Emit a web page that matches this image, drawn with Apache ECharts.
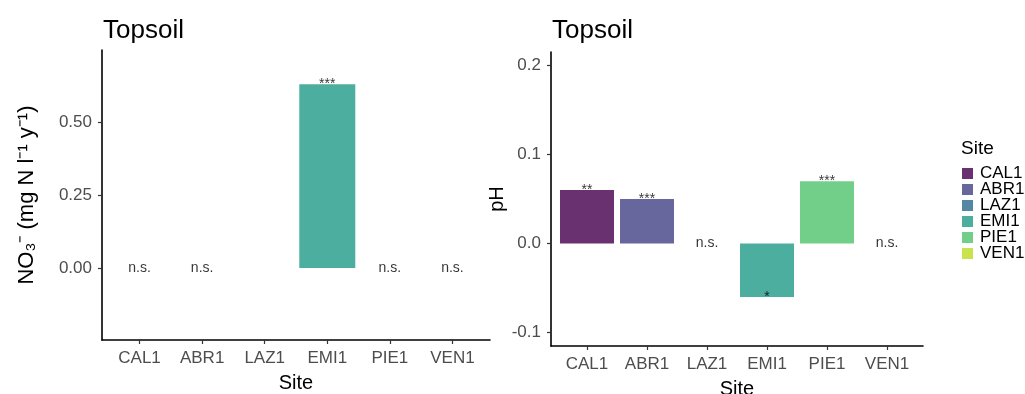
<!DOCTYPE html>
<html>
<head>
<meta charset="utf-8">
<script src="https://cdn.jsdelivr.net/npm/echarts@6/dist/echarts.min.js"></script>
<style>
html,body{margin:0;padding:0;background:#fff;}
#chart{width:1025px;height:394px;}
</style>
</head>
<body>
<div id="chart"></div>
<script>
// ---- data ----
const sites = ['CAL1', 'ABR1', 'LAZ1', 'EMI1', 'PIE1', 'VEN1'];
const no3Values = [0, 0, null, 0.63, 0, 0];
const no3Signif = ['n.s.', 'n.s.', '', '***', 'n.s.', 'n.s.'];
const phValues = [0.06, 0.05, 0, -0.06, 0.07, 0];
const phSignif = ['**', '***', 'n.s.', '*', '***', 'n.s.'];
const no3Ticks = [0, 0.25, 0.5];
const phTicks = [-0.1, 0, 0.1, 0.2];
const siteIdx = [0, 1, 2, 3, 4, 5];
const panelTitle = 'Topsoil';
const no3AxisName = 'NO\u2083\u207B (mg N l\u207B\u00B9 y\u207B\u00B9)';
const phAxisName = 'pH';
const xAxisName = 'Site';

// ---- style ----
const palette = ['#6a3171', '#67669d', '#5488a2', '#4cae9f', '#72cf8a', '#c9e34c'];
const FONT = '"Liberation Sans", Arial, sans-serif';

const chart = echarts.init(document.getElementById('chart'), null, {renderer: 'canvas'});

function xAxisCfg(gridIndex) {
  return {
    type: 'value', gridIndex: gridIndex, min: -0.6, max: 5.6,
    name: xAxisName, nameLocation: 'middle', nameGap: 33,
    nameTextStyle: {fontFamily: FONT, fontSize: 20, color: '#000'},
    axisLine: {show: true, onZero: false, lineStyle: {color: '#000', width: 1.6}},
    axisTick: {show: true, customValues: siteIdx, length: 4, lineStyle: {color: '#333', width: 1.2}},
    axisLabel: {customValues: siteIdx, formatter: v => sites[Math.round(v)], fontFamily: FONT, fontSize: 17, color: '#4d4d4d', margin: 10},
    splitLine: {show: false}
  };
}
function yAxisCfg(gridIndex, min, max, ticks, digits, name, gap, nameSize) {
  return {
    type: 'value', gridIndex: gridIndex, min: min, max: max,
    name: name, nameLocation: 'middle', nameGap: gap, nameRotate: 90,
    nameTextStyle: {fontFamily: FONT, fontSize: nameSize, color: '#000'},
    axisLine: {show: true, onZero: false, lineStyle: {color: '#000', width: 1.6}},
    axisTick: {show: true, customValues: ticks, length: 4, lineStyle: {color: '#333', width: 1.2}},
    axisLabel: {customValues: ticks, formatter: v => v.toFixed(digits), fontFamily: FONT, fontSize: 17, color: '#4d4d4d', margin: 10},
    splitLine: {show: false}
  };
}

const labelStyle = {
  show: true, position: [0, 0], align: 'center', verticalAlign: 'middle',
  fontFamily: FONT, fontSize: 14, color: '#000'
};

const series = [];
// left: NO3 bars
series.push({
  type: 'bar', name: 'NO3', xAxisIndex: 0, yAxisIndex: 0, barWidth: 56,
  data: no3Values.map((v, i) => v === null ? null : {value: [i, v], itemStyle: {color: palette[i]}}).filter(d => d)
});
series.push({
  type: 'scatter', name: 'no3sig', xAxisIndex: 0, yAxisIndex: 0, symbolSize: 0, silent: true,
  data: no3Values.map((v, i) => v === null ? null : {value: [i, v], label: {formatter: no3Signif[i]}}).filter(d => d),
  label: labelStyle
});
// right: pH bars, one series per site for legend
sites.forEach((s, i) => {
  series.push({
    type: 'bar', name: s, xAxisIndex: 1, yAxisIndex: 1, barWidth: 54, barGap: '-100%',
    itemStyle: {color: palette[i]},
    data: [[i, phValues[i]]]
  });
});
series.push({
  type: 'scatter', name: 'phsig', xAxisIndex: 1, yAxisIndex: 1, symbolSize: 0, silent: true,
  data: phValues.map((v, i) => ({value: [i, v], label: {formatter: phSignif[i]}})),
  label: labelStyle
});

const option = {
  animation: false,
  backgroundColor: '#fff',
  title: [
    {text: panelTitle, left: 98, top: 13, textStyle: {fontFamily: FONT, fontSize: 26, fontWeight: 'normal', color: '#000'}},
    {text: panelTitle, left: 547, top: 13, textStyle: {fontFamily: FONT, fontSize: 26, fontWeight: 'normal', color: '#000'}},
    {text: xAxisName, left: 956, top: 134, textStyle: {fontFamily: FONT, fontSize: 19, fontWeight: 'normal', color: '#000'}}
  ],
  grid: [
    {left: 102, top: 50, width: 388, height: 290, outerBoundsMode: 'none', containLabel: false},
    {left: 551, top: 52, width: 372, height: 294, outerBoundsMode: 'none', containLabel: false}
  ],
  xAxis: [xAxisCfg(0), xAxisCfg(1)],
  yAxis: [
    yAxisCfg(0, -0.247, 0.747, no3Ticks, 2, no3AxisName, 64, 22),
    yAxisCfg(1, -0.115, 0.215, phTicks, 1, phAxisName, 36, 20)
  ],
  legend: {
    orient: 'vertical', left: 957, top: 160, selectedMode: false,
    data: sites.map((s, i) => ({name: s, icon: 'rect', itemStyle: {color: palette[i]}})),
    itemWidth: 11, itemHeight: 11, itemGap: -1,
    textStyle: {fontFamily: FONT, fontSize: 17, color: '#000', padding: [0, 0, 0, 2]}
  },
  series: series
};
chart.setOption(option);
</script>
</body>
</html>
